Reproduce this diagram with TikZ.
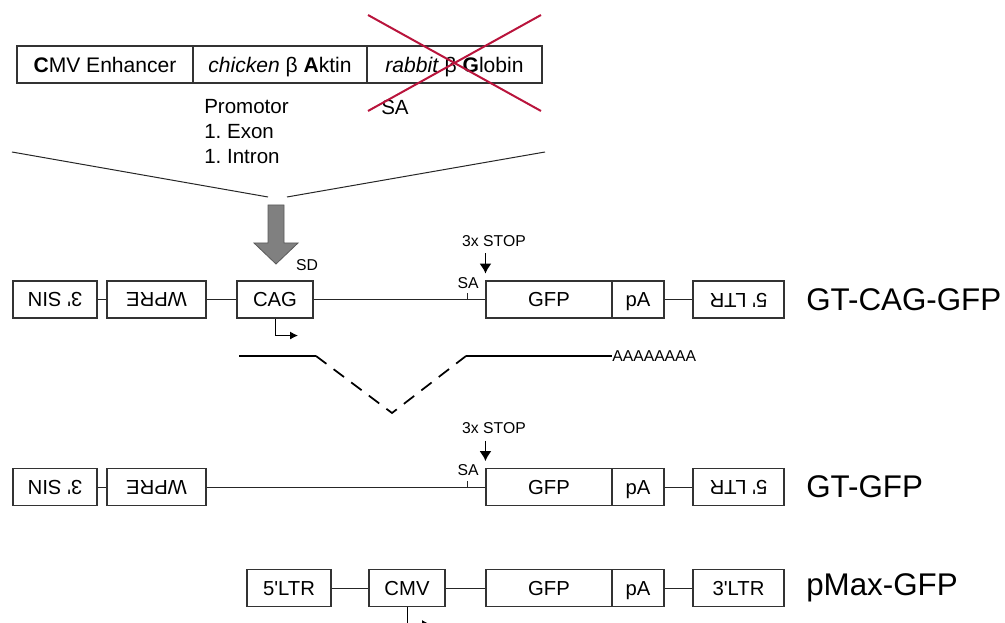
\documentclass[tikz,border=0pt]{standalone}
\usepackage{fontspec}
\setmainfont{Liberation Sans}[Ligatures=TeXOff]
\usepackage{graphicx}
\usetikzlibrary{arrows.meta}
\definecolor{crossred}{RGB}{185,20,60}
\definecolor{blockgray}{RGB}{128,128,128}
\newcommand{\flip}[1]{\rotatebox[origin=c]{180}{#1}}
\frenchspacing

\begin{document}
\begin{tikzpicture}[x=0.75pt,y=-0.75pt,
  gene/.style={draw=black!80,line width=0.8pt,rectangle,inner sep=0pt,minimum height=27.75pt,minimum width=#1*0.75pt,text height=10.9pt,text depth=0pt,font=\fontsize{15.2}{18}\selectfont},
  topbox/.style={gene=#1,text height=11.3pt,font=\fontsize{15.8}{19}\selectfont},
  txt/.style={inner sep=0pt,font=\fontsize{15.4}{18}\selectfont},
  smalltxt/.style={inner sep=0pt,font=\fontsize{11.8}{14}\selectfont},
  rowlabel/.style={inner sep=0pt,anchor=west,font=\fontsize{23.5}{28}\selectfont},
  link/.style={draw=black!85,line width=0.75pt},
  stoparrow/.style={-{Latex[length=7.5pt,width=9pt]},line width=1pt,shorten <=4.9pt,shorten >=5.2pt},
  promarrow/.style={-{Latex[length=6pt,width=6pt]},line width=0.75pt},
  mrna/.style={line width=1.3pt}]
\useasboundingbox (0,0) rectangle (1005,623);

% CAG construct
\node[topbox=176] (cmv) at (105,64.5) {\textbf{C}MV Enhancer};
\node[topbox=174] (actin) at (280,64.5) {\textit{chicken} β \textbf{A}ktin};
\node[topbox=175] (globin) at (454.5,64.5) {\textit{rabbit} β \textbf{G}lobin};
\node[txt,anchor=west] (promotor) at (204,107) {Promotor};
\node[txt,anchor=west] (exon) at (204,132) {1. Exon};
\node[txt,anchor=west] (intron) at (204,157) {1. Intron};
\node[txt,anchor=west] (satop) at (381,107) {SA};
\draw[crossred,line width=1.5pt] (368,15) -- (541,111) (368,111) -- (541,15);

% funnel and block arrow
\coordinate (fl) at (12,152);
\coordinate (fr) at (545,152);
\draw[link] (fl) -- (268,197);
\draw[link] (287,197) -- (fr);
\draw[blockgray!70!black,fill=blockgray,line width=0.6pt]
  (268,205) -- (284,205) -- (284,243) -- (298,243) -- (276,264) -- (254,243) -- (268,243) -- cycle;
\node[smalltxt] (sd) at (307,265) {SD};

% gene trap rows
\foreach \r/\y in {A/299.5,B/487}{
  \node[gene=84] (sin\r) at (55,\y) {\flip{3' SIN}};
  \node[gene=99] (wpre\r) at (156.5,\y) {\flip{WPRE}};
  \node[gene=126] (gfp\r) at (549,\y) {GFP};
  \node[gene=52] (pa\r) at (638,\y) {pA};
  \node[gene=91] (ltr\r) at (738.5,\y) {\flip{5' LTR}};
  \draw[link] (sin\r) -- (wpre\r);
  \draw[link] (pa\r) -- (ltr\r);
  \node[smalltxt] (stop\r) at (494,\y-58.5) {3x STOP};
  \draw[stoparrow] (stop\r.south -| gfp\r.west) -- (gfp\r.north west);
  \node[smalltxt] (sa\r) at (468,\y-16.5) {SA};
  \draw[link] (467,\y) -- (467,\y-6.5);
}
\node[gene=76] (cagA) at (275,299.5) {CAG};
\draw[link] (wpreA) -- (cagA);
\draw[link] (cagA) -- (gfpA);
\draw[link] (wpreB) -- (gfpB);
\draw[promarrow] (cagA.south) -- ++(0,17) -- ++(23,0);
\node[rowlabel] (nameA) at (806,299.5) {GT-CAG-GFP};
\node[rowlabel] (nameB) at (806,487) {GT-GFP};

% spliced mRNA
\coordinate (exa) at (239,356);
\coordinate (exb) at (316,356);
\coordinate (dip) at (392,413);
\coordinate (exc) at (466,356);
\node[smalltxt,anchor=west] (polya) at (612,356) {AAAAAAAA};
\draw[mrna] (exa) -- (exb);
\draw[mrna,dash pattern=on 9.75pt off 6.75pt] (exb) -- (dip) -- (exc);
\draw[mrna] (exc) -- (polya.west);

% pMax row
\node[gene=84] (ltrC) at (289,588) {5'LTR};
\node[gene=76] (cmvC) at (407,588) {CMV};
\node[gene=126] (gfpC) at (549,588) {GFP};
\node[gene=52] (paC) at (638,588) {pA};
\node[gene=91] (ltrrC) at (738.5,588) {3'LTR};
\draw[link] (ltrC) -- (cmvC);
\draw[link] (cmvC) -- (gfpC);
\draw[link] (paC) -- (ltrrC);
\draw[promarrow] (cmvC.south) -- ++(0,17) -- ++(23,0);
\node[rowlabel] (nameC) at (806,588) {pMax-GFP};
\end{tikzpicture}
\end{document}
